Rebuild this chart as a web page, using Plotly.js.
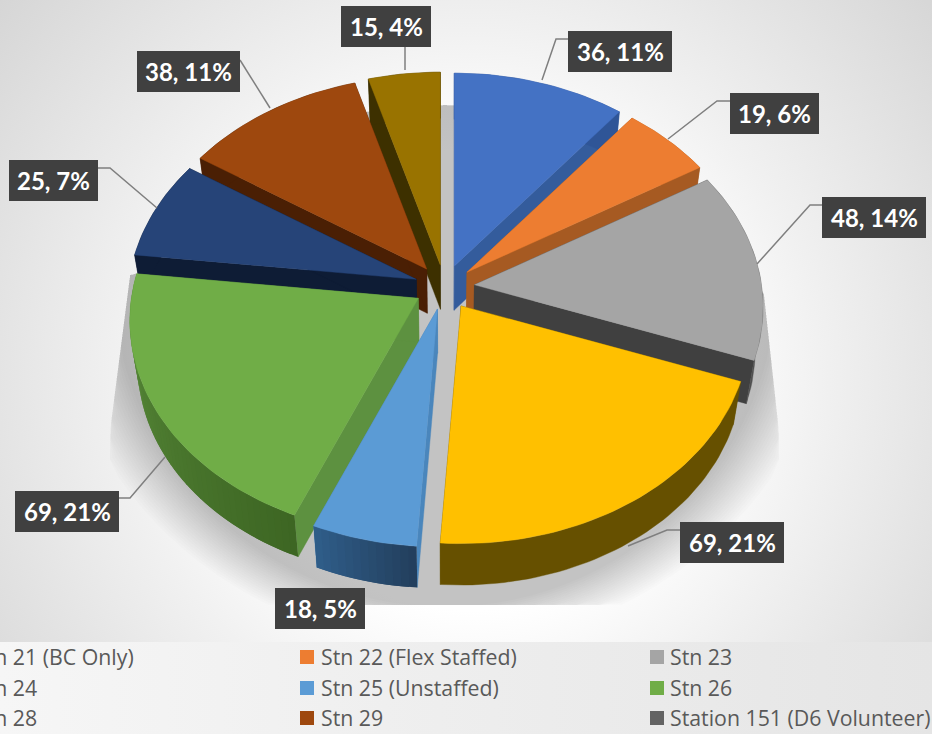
<!DOCTYPE html>
<html><head><meta charset="utf-8">
<script src="https://cdn.plot.ly/plotly-3.0.1.min.js"></script>
<style>
html,body{margin:0;padding:0;width:932px;height:734px;overflow:hidden}
body{background:
 linear-gradient(90deg,#f6f6f6,#e5e5e5) 0 642px/932px 92px no-repeat,
 radial-gradient(circle at 470px 380px,#ffffff 0,#ffffff 230px,#f1f1f1 350px,#d2d2d2 640px);}
#c{width:932px;height:734px}
</style></head><body><div id="c"></div>
<script>
const sliceNames=["Stn 21 (BC Only)","Stn 22 (Flex Staffed)","Stn 23","Stn 24","Stn 25 (Unstaffed)","Stn 26","Stn 28","Stn 29","Other"];
const sliceValues=[36,19,48,69,18,69,25,38,15];
const slicePercents=[11,6,14,21,5,21,7,11,4];
const topColors=["#4472C4","#ED7D31","#A5A5A5","#FFC000","#5B9BD5","#70AD47","#264478","#9E480E","#997300"];
const sideColors=["#345C9C","#A65A22","#404040","#665000","#4A86BC","#5D9140","#0E1C35","#4A1F04","#3D3000"];
const wallStart=["#2F5597","#A65A22","#505050","#665000","#223E5C","#3D6623","#0E1C35","#4A1F04","#3D3000"];
const wallEnd=["#2F5597","#A65A22","#505050","#665000","#2F5E8A","#5B8E3C","#0E1C35","#4A1F04","#3D3000"];
const legendNames=["Stn 21 (BC Only)","Stn 22 (Flex Staffed)","Stn 23","Stn 24","Stn 25 (Unstaffed)","Stn 26","Stn 28","Stn 29","Station 151 (D6 Volunteer)"];
const legendColors=["#4472C4","#ED7D31","#A5A5A5","#FFC000","#5B9BD5","#70AD47","#264478","#9E480E","#636363"];
const labelBoxes=[[568,31,104],[730,93,89],[822,197,104],[680,522,104],[275,588,90],[15,491,104],[9,160,89],[137,51,103],[341,6,90]];
const leaders=[[[542,80],[556,39],[568,39]],[[668,139],[717,101],[730,101]],[[757,264],[810,205],[822,205]],[[628,546],[667,530],[680,530]],null,[[165,457],[130,498],[119,498]],[[157,208],[110,168],[98,168]],[[270,108],[240,60]],[[405,70],[405,47]]];

const Cx=444.5,Cy=287,A=287,B=213,K=0.104,PULL=0.105,H=44,BOXH=41,LEAN=0.975,DROP=0.99;
const rad=d=>d*Math.PI/180;
const P=(x,y)=>[A*x/(1+K*y),-B*y/(1+K*y)];
const hex=c=>[1,3,5].map(i=>parseInt(c.substr(i,2),16));
const mix=(a,b,f)=>{const p=hex(a),q=hex(b);return 'rgb('+p.map((v,i)=>Math.round(v+(q[i]-v)*f)).join(',')+')';};

const total=sliceValues.reduce((s,v)=>s+v,0);
let cum=0;
const slices=sliceValues.map((v,i)=>{const a0=cum/total*360;cum+=v;const a1=cum/total*360;
  const b=rad((a0+a1)/2);const o=P(PULL*Math.sin(b),PULL*Math.cos(b));
  return {i,a0,a1,b,tip:[Cx+o[0],Cy+o[1]]};});
const outer=(s,t)=>{const p=P(Math.sin(rad(t)),Math.cos(rad(t)));return [s.tip[0]+p[0],s.tip[1]+p[1]];};
const down=p=>[Cx+(p[0]-Cx)*LEAN,Cy+(p[1]-Cy)*DROP+H];
const poly=(pts,color,lw,name,hov)=>({type:'scatter',mode:'lines',x:pts.concat([pts[0]]).map(p=>p[0]),y:pts.concat([pts[0]]).map(p=>p[1]),
  fill:'toself',fillcolor:color,line:{color:color,width:lw},showlegend:false,hoverinfo:hov?'text':'skip',text:hov||undefined,name:name||''});

const traces=[];
slices.slice().sort((p,q)=>Math.cos(q.b)-Math.cos(p.b)).forEach(s=>{
  const i=s.i;
  [s.a0,s.a1].forEach(t=>{const e=outer(s,t);traces.push(poly([s.tip,e,down(e),down(s.tip)],sideColors[i],0.4));});
  const n=Math.ceil((s.a1-s.a0)/1.5),dt=(s.a1-s.a0)/n;
  if(wallStart[i]===wallEnd[i]){
    const up=[],lo=[];for(let k=0;k<=n;k++){const e=outer(s,s.a0+k*dt);up.push(e);lo.unshift(down(e));}
    traces.push(poly(up.concat(lo),wallStart[i],0.4));
  } else {
    // overlapping strips, later ones paint over the seam
    for(let k=0;k<n;k++){const m=Math.min(k+2,n),up=[],lo=[];
      for(let q=k;q<=m;q++){const p=outer(s,s.a0+q*dt);up.push(p);lo.unshift(down(p));}
      traces.push(poly(up.concat(lo),mix(wallStart[i],wallEnd[i],(k+.5)/n),0));}
  }
  const top=[s.tip];for(let k=0;k<=n;k++)top.push(outer(s,s.a0+k*dt));
  traces.push(poly(top,topColors[i],0.4,sliceNames[i],sliceNames[i]+': '+sliceValues[i]+', '+slicePercents[i]+'%'));
});

const shapes=[];
// soft shadow under the pie: nested outlines hidden behind the pie at the back and cut by the floor line
for(let k=0;k<20;k++){
  const rx=390-k*3,ry=370-k*2,cx=445,cy=275,pts=[];
  for(let d=0;d<360;d+=3){
    const s=Math.sin(rad(d)),c=Math.cos(rad(d));let x,y;
    if(c>=0){x=cx+280*s;y=cy-170*c;}
    else{
      x=cx+rx*s;y=cy-ry*c;y=Math.min(y,605);
      const yy=Math.min(y,430);
      x=Math.max(x,110+(430-yy)*0.129);
      x=Math.min(x,779-(430-yy)*0.11);
    }
    pts.push(x.toFixed(1)+','+y.toFixed(1));
  }
  shapes.push({type:'path',layer:'below',xref:'x',yref:'y',path:'M'+pts.join('L')+'Z',fillcolor:'rgba(0,0,0,0.011)',line:{width:0}});
}
// leader lines
leaders.forEach(l=>{if(!l)return;shapes.push({type:'path',layer:'above',xref:'x',yref:'y',
  path:'M'+l.map(p=>p.join(',')).join('L'),line:{color:'#7F7F7F',width:1.5},fillcolor:'rgba(0,0,0,0)'});});
const rectPath=(x,y,w,h)=>`M${x},${y}h${w}v${h}h${-w}Z`;
const annotations=[];
labelBoxes.forEach((b,i)=>{const [x,y,w]=b;
  [[7,.05],[5,.08],[3,.12]].forEach(([d,al])=>shapes.push({type:'path',layer:'above',xref:'x',yref:'y',
    path:rectPath(x+1,y+1,w+d,BOXH+d),fillcolor:'rgba(0,0,0,'+al+')',line:{width:0}}));
  shapes.push({type:'rect',layer:'above',xref:'x',yref:'y',x0:x,x1:x+w,y0:y,y1:y+BOXH,fillcolor:'#404040',line:{width:0}});
  let dots='';
  for(let dy=3,r=0;dy<BOXH-1;dy+=4,r++)for(let dx=(r%2?5:1);dx<w-1;dx+=8)dots+=rectPath(x+dx,y+dy,1.6,1.6);
  shapes.push({type:'path',layer:'above',xref:'x',yref:'y',path:dots,fillcolor:'#626262',line:{width:0}});
  annotations.push({xref:'paper',yref:'paper',x:(x+w/2)/932,y:1-(y+BOXH/2)/734,xanchor:'center',yanchor:'middle',showarrow:false,
    text:'<b>'+sliceValues[i]+', '+slicePercents[i]+'%</b>',font:{family:'Lato, sans-serif',size:24,color:'#FFFFFF'}});
});
// legend block
const swatchX=[-46,300,650],textX=[-27,319,668],rowY=[656,687,717];
legendNames.forEach((n,i)=>{const c=i%3,r=Math.floor(i/3),sx=swatchX[c],sy=rowY[r];
  shapes.push({type:'rect',layer:'above',xref:'paper',yref:'paper',x0:sx/932,x1:(sx+14)/932,y0:1-(sy-6)/734,y1:1-(sy+8)/734,fillcolor:legendColors[i],line:{width:0}});
  annotations.push({xref:'paper',yref:'paper',x:textX[c]/932,y:1-sy/734,xanchor:'left',yanchor:'middle',showarrow:false,
    text:n,font:{family:'"Open Sans", sans-serif',size:21.3,color:'#595959'}});
});

Plotly.newPlot('c',traces,{
  width:932,height:734,margin:{l:0,r:0,t:0,b:0,pad:0},
  paper_bgcolor:'rgba(0,0,0,0)',plot_bgcolor:'rgba(0,0,0,0)',showlegend:false,
  xaxis:{range:[0,932],visible:false,fixedrange:true},
  yaxis:{range:[734,0],visible:false,fixedrange:true},
  shapes,annotations,hovermode:'closest'
},{displayModeBar:false});
</script></body></html>
